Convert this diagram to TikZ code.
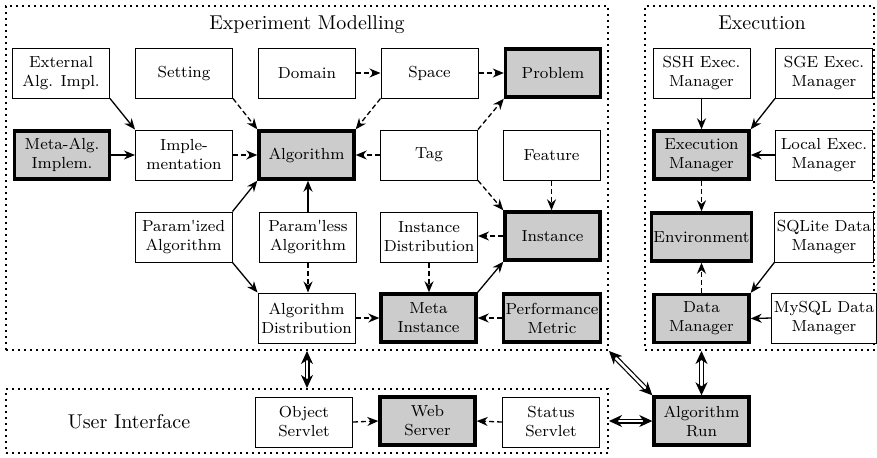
\documentclass[tikz,border=0pt]{standalone}
\usetikzlibrary{arrows.meta,calc}
\begin{document}
\begin{tikzpicture}[x=0.5pt,y=-0.5pt,
  box/.style={draw, line width=0.5pt, minimum width=48.5pt, minimum height=25pt, inner sep=1pt, align=center, font=\footnotesize, fill=white},
  key/.style={box, fill=gray!40, line width=1.7pt, minimum width=47.5pt, minimum height=24pt},
  grp/.style={draw, dotted, line width=1pt, inner sep=0pt},
  ttl/.style={font=\normalsize, anchor=base},
  arr/.style={-{Stealth[length=5.5pt,width=4.5pt,inset=1.8pt]}, line width=0.65pt},
  dsh/.style={arr, dash pattern=on 2.5pt off 1.5pt},
  dbl/.style={double, double distance=1.3pt, line width=0.6pt, {Stealth[length=6.5pt,width=6pt,inset=2pt]}-{Stealth[length=6.5pt,width=6pt,inset=2pt]}}
]
\useasboundingbox (0,0) rectangle (877,457);
% containers
\node[grp, minimum width=301pt, minimum height=172pt] (expm) at (307,178) {};
\node[grp, minimum width=114.5pt, minimum height=172pt] (exec) at (759.5,178) {};
\node[grp, minimum width=301pt, minimum height=32pt] (ui) at (307,421) {};
\node[ttl] (t1) at (307,29) {Experiment Modelling};
\node[ttl] (t2) at (762,29) {Execution};
\node[ttl] (t3) at (129,428) {User Interface};
% row 1
\node[box] (ext) at (61,73) {External\\Alg. Impl.};
\node[box] (set) at (184,73) {Setting};
\node[box] (dom) at (307,73) {Domain};
\node[box] (spc) at (429.5,73) {Space};
\node[key] (prob) at (553,73) {Problem};
% row 2
\node[key] (meta) at (62,155) {Meta-Alg.\\Implem.};
\node[box] (impl) at (184,155) {Imple-\\mentation};
\node[key] (alg) at (306.5,155) {Algorithm};
\node[box] (tag) at (429,155) {Tag};
\node[box] (feat) at (551.5,155) {Feature};
% row 3
\node[box] (pz) at (183.5,237) {Param\textquotesingle ized\\Algorithm};
\node[box] (pl) at (308,237) {Param\textquotesingle less\\Algorithm};
\node[box] (idist) at (429,237) {Instance\\Distribution};
\node[key] (inst) at (552.5,236) {Instance};
% row 4
\node[box] (adist) at (306.5,318) {Algorithm\\Distribution};
\node[key] (mi) at (428.5,318) {Meta\\Instance};
\node[key] (pm) at (552,318) {Performance\\Metric};
% execution
\node[box] (ssh) at (701.5,73) {SSH Exec.\\Manager};
\node[box] (sge) at (824,73) {SGE Exec.\\Manager};
\node[key] (em) at (701.5,155) {Execution\\Manager};
\node[box] (loc) at (824,155) {Local Exec.\\Manager};
\node[key] (env) at (701.5,237) {Environment};
\node[box] (sql) at (824,237) {SQLite Data\\Manager};
\node[key] (dm) at (701.5,318.5) {Data\\Manager};
\node[box] (my) at (824,318) {MySQL Data\\Manager};
% UI
\node[box] (os) at (304,422) {Object\\Servlet};
\node[key] (ws) at (427.5,421) {Web\\Server};
\node[box] (ss) at (551,422) {Status\\Servlet};
\node[key] (run) at (701.5,421) {Algorithm\\Run};
% arrows
\draw[arr] (ext.south east) -- (impl.north west);
\draw[arr] (meta.east) -- (impl.west);
\draw[dsh] (set.south east) -- (alg.north west);
\draw[dsh] (impl.east) -- (alg.west);
\draw[arr] (pz.north east) -- (alg.south west);
\draw[arr] (pl.north) -- (pl.north |- alg.south);
\draw[dsh] (dom.east) -- (spc.west);
\draw[dsh] (spc.east) -- (prob.west);
\draw[dsh] (spc.south west) -- (alg.north east);
\draw[dsh] (tag.west) -- (alg.east);
\draw[dsh] (tag.north east) -- (prob.south west);
\draw[dsh] (tag.south east) -- (inst.north west);
\draw[dsh] (feat.south) -- (feat.south |- inst.north);
\draw[dsh] (inst.west) -- (idist.east |- inst.west);
\draw[dsh] (idist.south) -- (idist.south |- mi.north);
\draw[arr] (mi.north east) -- (inst.south west);
\draw[dsh] (pm.west) -- (mi.east);
\draw[dsh] (adist.east) -- (mi.west);
\draw[dsh] (pl.south) -- (pl.south |- adist.north);
\draw[arr] (pz.south east) -- (adist.north west);
\draw[arr] (ssh.south) -- (em.north);
\draw[arr] (sge.south west) -- (em.north east);
\draw[arr] (loc.west) -- (em.east);
\draw[dsh] (em.south) -- (env.north);
\draw[dsh] (dm.north) -- (env.south);
\draw[arr] (sql.south west) -- (dm.north east);
\draw[arr] (my.west) -- (dm.east);
\draw[dsh] (os.east) -- (ws.west);
\draw[dsh] (ss.west) -- (ws.east);
% double arrows
\draw[dbl] (expm.south) -- (ui.north);
\draw[dbl] (expm.south east) -- (run.north west);
\draw[dbl] (run.north |- exec.south) -- (run.north);
\draw[dbl] (ui.east) -- (run.west);
\end{tikzpicture}
\end{document}
